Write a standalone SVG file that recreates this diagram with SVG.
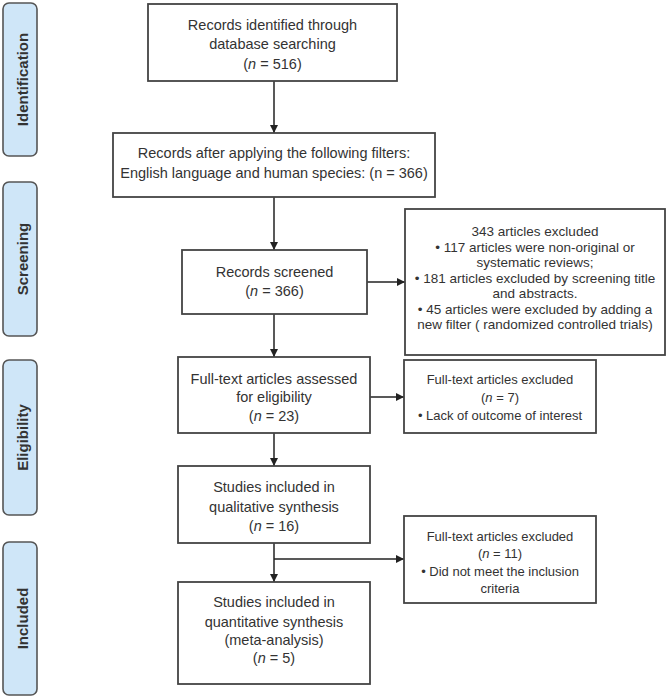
<svg xmlns="http://www.w3.org/2000/svg" width="667" height="698" viewBox="0 0 667 698">
<defs>
<marker id="ah" viewBox="0 0 10 10" refX="10" refY="5" markerWidth="8" markerHeight="8" markerUnits="userSpaceOnUse" orient="auto">
<path d="M0,0 L10,5 L0,10 z" fill="#222"/>
</marker>
<style>
.tab{fill:#cfe6f8;stroke:#555;stroke-width:1.6}
.tabt{font-family:"Liberation Sans",Arial,sans-serif;font-weight:bold;font-size:15px;fill:#333;text-anchor:middle}
.box{fill:#fff;stroke:#444;stroke-width:1.8}
.t{font-family:"Liberation Sans",Arial,sans-serif;font-size:14.5px;fill:#333;text-anchor:middle}
.s{font-family:"Liberation Sans",Arial,sans-serif;font-size:13px;fill:#333;text-anchor:middle}
.s4{font-family:"Liberation Sans",Arial,sans-serif;font-size:13.5px;fill:#333;text-anchor:middle}
.c{stroke:#222;stroke-width:1.5;fill:none}
</style>
</defs>
<rect width="667" height="698" fill="#fff"/>
<g id="tab-identification"><rect class="tab" x="3" y="3" width="34" height="153" rx="6"/><text class="tabt" transform="translate(28,79.5) rotate(-90)">Identification</text></g>
<g id="tab-screening"><rect class="tab" x="3" y="182" width="34" height="154" rx="6"/><text class="tabt" transform="translate(28,259) rotate(-90)">Screening</text></g>
<g id="tab-eligibility"><rect class="tab" x="3" y="360" width="34" height="155" rx="6"/><text class="tabt" transform="translate(28,437.5) rotate(-90)">Eligibility</text></g>
<g id="tab-included"><rect class="tab" x="3" y="542" width="34" height="153" rx="6"/><text class="tabt" transform="translate(28,618.5) rotate(-90)">Included</text></g>

<g id="connectors">
<line class="c" x1="274" y1="81" x2="274" y2="133" marker-end="url(#ah)"/>
<line class="c" x1="274" y1="197" x2="274" y2="250" marker-end="url(#ah)"/>
<line class="c" x1="367" y1="282" x2="405" y2="282" marker-end="url(#ah)"/>
<line class="c" x1="274" y1="314" x2="274" y2="357" marker-end="url(#ah)"/>
<line class="c" x1="370" y1="397" x2="404" y2="397" marker-end="url(#ah)"/>
<line class="c" x1="274" y1="433" x2="274" y2="466" marker-end="url(#ah)"/>
<line class="c" x1="274" y1="543" x2="274" y2="582" marker-end="url(#ah)"/>
<line class="c" x1="274" y1="559" x2="404" y2="559" marker-end="url(#ah)"/>
</g>

<g id="identified"><rect class="box" x="148" y="4" width="249" height="77"/>
<text class="t" x="272.5" y="30">Records identified through</text>
<text class="t" x="272.5" y="49">database searching</text>
<text class="t" x="272.5" y="69">(<tspan font-style="italic">n</tspan> = 516)</text></g>

<g id="filtered"><rect class="box" x="113" y="133" width="322" height="64"/>
<text class="t" x="274" y="158">Records after applying the following filters:</text>
<text class="t" x="274" y="178">English language and human species: (n = 366)</text></g>

<g id="screened"><rect class="box" x="182" y="250" width="185" height="64"/>
<text class="t" x="274.5" y="277">Records screened</text>
<text class="t" x="274.5" y="296">(<tspan font-style="italic">n</tspan> = 366)</text></g>

<g id="excluded-screening"><rect class="box" x="405" y="209" width="260" height="146"/>
<text class="s4" x="535" y="236">343 articles excluded</text>
<text class="s4" x="535" y="251.5">• 117 articles were non-original or</text>
<text class="s4" x="535" y="267">systematic reviews;</text>
<text class="s4" x="535" y="282.5">• 181 articles excluded by screening title</text>
<text class="s4" x="535" y="298">and abstracts.</text>
<text class="s4" x="535" y="313.5">• 45 articles were excluded by adding a</text>
<text class="s4" x="535" y="329">new filter ( randomized controlled trials)</text></g>

<g id="fulltext"><rect class="box" x="178" y="357" width="192" height="76"/>
<text class="t" x="274" y="384">Full-text articles assessed</text>
<text class="t" x="274" y="402">for eligibility</text>
<text class="t" x="274" y="421">(<tspan font-style="italic">n</tspan> = 23)</text></g>

<g id="excluded-fulltext"><rect class="box" x="404" y="360" width="192" height="73"/>
<text class="s" x="500" y="383.5">Full-text articles excluded</text>
<text class="s" x="500" y="401.5">(<tspan font-style="italic">n</tspan> = 7)</text>
<text class="s" x="500" y="419.5">• Lack of outcome of interest</text></g>

<g id="qualitative"><rect class="box" x="178" y="466" width="192" height="77"/>
<text class="t" x="274" y="492">Studies included in</text>
<text class="t" x="274" y="512">qualitative synthesis</text>
<text class="t" x="274" y="531">(<tspan font-style="italic">n</tspan> = 16)</text></g>

<g id="excluded-inclusion"><rect class="box" x="404" y="516" width="192" height="87"/>
<text class="s" x="500" y="540.5">Full-text articles excluded</text>
<text class="s" x="500" y="557.5">(<tspan font-style="italic">n</tspan> = 11)</text>
<text class="s" x="500" y="575.5">• Did not meet the inclusion</text>
<text class="s" x="500" y="592.5">criteria</text></g>

<g id="quantitative"><rect class="box" x="178" y="582" width="192" height="102"/>
<text class="t" x="274" y="607">Studies included in</text>
<text class="t" x="274" y="627">quantitative synthesis</text>
<text class="t" x="274" y="645">(meta-analysis)</text>
<text class="t" x="274" y="663">(<tspan font-style="italic">n</tspan> = 5)</text></g>
</svg>
